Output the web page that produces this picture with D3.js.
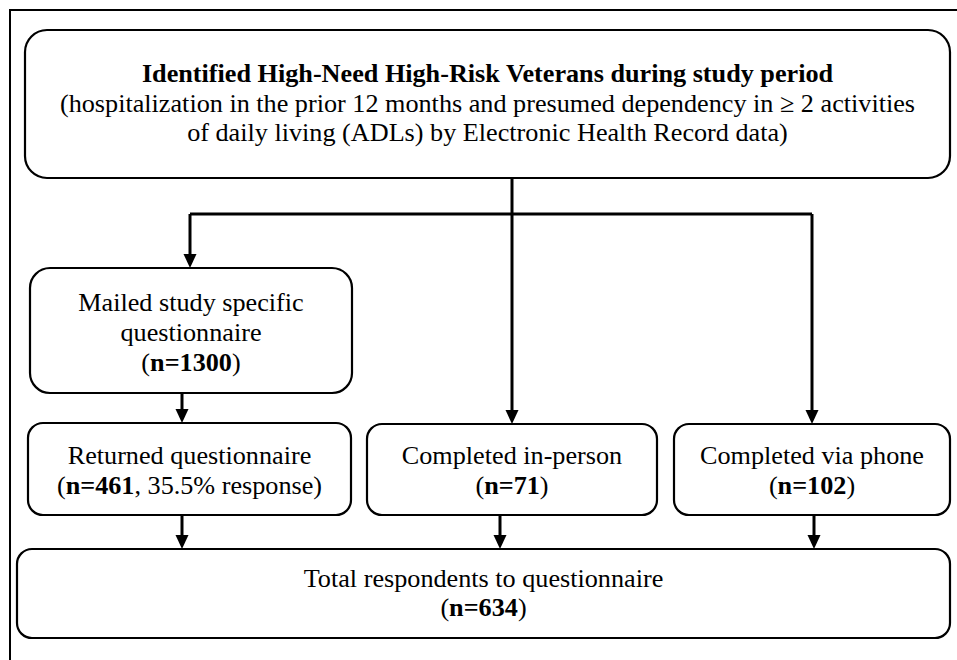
<!DOCTYPE html>
<html>
<head>
<meta charset="utf-8">
<script src="https://cdn.jsdelivr.net/npm/d3@7"></script>
<style>
  body { margin: 0; background: #fff; }
  text { font-family: "Liberation Serif", "Times New Roman", serif; font-size: 26.2px; fill: #000; }
</style>
</head>
<body>
<div id="chart"></div>
<script>
// text + counts from the flow diagram
const titleLines = [
  "Identified High-Need High-Risk Veterans during study period",
  "(hospitalization in the prior 12 months and presumed dependency in \u2265 2 activities",
  "of daily living (ADLs) by Electronic Health Record data)"
];
const mailedLines = ["Mailed study specific", "questionnaire"];
const mailedCount = 1300;
const pathLabels = ["Returned questionnaire", "Completed in-person", "Completed via phone"];
const pathCounts = [461, 71, 102];
const responseNote = ", 35.5% response";
const totalLabel = "Total respondents to questionnaire";
const totalCount = 634;

const width = 957, height = 660;

// box geometry (pixels)
const layout = {
  top:    { x0: 25,  x1: 950, y0: 30,  y1: 178, r: 22 },
  mailed: { x0: 30,  x1: 352, y0: 268, y1: 393, r: 20 },
  paths: [
    { x0: 28,  x1: 351, y0: 423, y1: 515, r: 15 },
    { x0: 367, x1: 657, y0: 424, y1: 515, r: 15 },
    { x0: 674, x1: 950, y0: 424, y1: 515, r: 15 }
  ],
  total:  { x0: 17,  x1: 950, y0: 549, y1: 638, r: 15 }
};
const branchY = 214;
const branchX = [190, 512, 812];   // arrows out of the split line
const stemX = 512;
const mailArrowX = 182;
const bottomArrowX = [182, 500, 814];
const lineH = 30;

const svg = d3.select('#chart')
  .append('svg')
  .attr('width', width)
  .attr('height', height);

// outer frame (only top/left edges visible in the crop)
svg.append('rect')
  .attr('x', 10).attr('y', 10)
  .attr('width', width + 20).attr('height', height + 20)
  .attr('fill', 'none')
  .attr('stroke', '#000')
  .attr('stroke-width', 2);

const allBoxes = [layout.top, layout.mailed, ...layout.paths, layout.total];
svg.selectAll('rect.box')
  .data(allBoxes)
  .enter()
  .append('rect')
  .attr('class', 'box')
  .attr('x', d => d.x0)
  .attr('y', d => d.y0)
  .attr('width', d => d.x1 - d.x0)
  .attr('height', d => d.y1 - d.y0)
  .attr('rx', d => d.r)
  .attr('fill', 'none')
  .attr('stroke', '#000')
  .attr('stroke-width', 2.2);

// connectors
const line = d3.line();
const conn = svg.append('g')
  .attr('fill', 'none')
  .attr('stroke', '#000')
  .attr('stroke-width', 3);

conn.append('path').attr('d', line([[stemX, layout.top.y1], [stemX, branchY]]));
conn.append('path').attr('d', line([[branchX[0], branchY], [branchX[2], branchY]]));

function arrow(x, y0, y1) {
  const head = 14, half = 6.5;
  conn.append('path').attr('d', line([[x, y0], [x, y1 - head + 1]]));
  svg.append('path')
    .attr('d', line([[x - half, y1 - head], [x + half, y1 - head], [x, y1]]) + 'Z')
    .attr('fill', '#000');
}

arrow(branchX[0], branchY, layout.mailed.y0);
arrow(branchX[1], branchY, layout.paths[1].y0);
arrow(branchX[2], branchY, layout.paths[2].y0);
arrow(mailArrowX, layout.mailed.y1, layout.paths[0].y0);
bottomArrowX.forEach((x, i) => arrow(x, layout.paths[i].y1, layout.total.y0));

const cx = b => (b.x0 + b.x1) / 2;

// top box
const tb = layout.top;
svg.selectAll('text.title')
  .data(titleLines)
  .enter()
  .append('text')
  .attr('class', 'title')
  .attr('x', cx(tb))
  .attr('y', (d, i) => 82 + i * 29.5)
  .attr('text-anchor', 'middle')
  .style('font-weight', (d, i) => i === 0 ? 'bold' : 'normal')
  .text(d => d);

// count line helper: "(n=XXX...)" with bold n=
function countLine(x, y, n, extra) {
  const t = svg.append('text')
    .attr('x', x).attr('y', y)
    .attr('text-anchor', 'middle');
  t.append('tspan').text('(');
  t.append('tspan').style('font-weight', 'bold').text('n=' + n);
  t.append('tspan').text((extra || '') + ')');
}

// mailed box
const mb = layout.mailed;
svg.selectAll('text.mailed')
  .data(mailedLines)
  .enter()
  .append('text')
  .attr('class', 'mailed')
  .attr('x', cx(mb))
  .attr('y', (d, i) => 311 + i * lineH)
  .attr('text-anchor', 'middle')
  .text(d => d);
countLine(cx(mb), 371, mailedCount);

// three path boxes
layout.paths.forEach((b, i) => {
  svg.append('text')
    .attr('x', cx(b))
    .attr('y', 464)
    .attr('text-anchor', 'middle')
    .text(pathLabels[i]);
  countLine(cx(b), 494, pathCounts[i], i === 0 ? responseNote : '');
});

// total box
const ob = layout.total;
svg.append('text')
  .attr('x', cx(ob))
  .attr('y', 587)
  .attr('text-anchor', 'middle')
  .text(totalLabel);
countLine(cx(ob), 616, totalCount);
</script>
</body>
</html>
